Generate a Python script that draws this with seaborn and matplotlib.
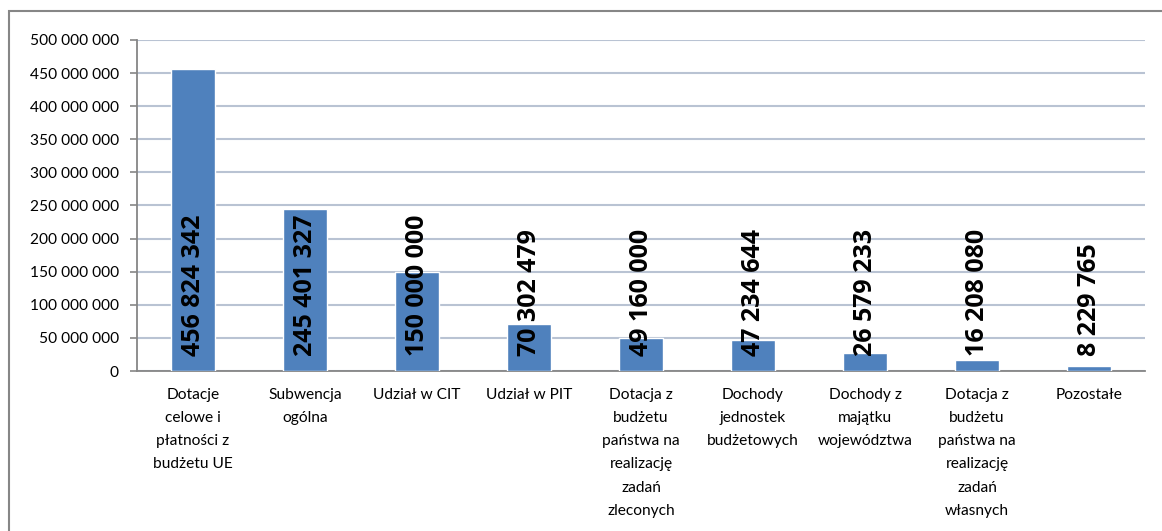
import matplotlib
matplotlib.use("Agg")
import matplotlib.pyplot as plt
import seaborn as sns
import pandas as pd
from matplotlib.ticker import FuncFormatter, MultipleLocator
from matplotlib.patches import Rectangle

# dane z wykresu
kategorie = [
    "Dotacje\ncelowe i\npłatności z\nbudżetu UE",
    "Subwencja\nogólna",
    "Udział w CIT",
    "Udział w PIT",
    "Dotacja z\nbudżetu\npaństwa na\nrealizację\nzadań\nzleconych",
    "Dochody\njednostek\nbudżetowych",
    "Dochody z\nmajątku\nwojewództwa",
    "Dotacja z\nbudżetu\npaństwa na\nrealizację\nzadań\nwłasnych",
    "Pozostałe",
]
wartosci = [456824342, 245401327, 150000000, 70302479, 49160000,
            47234644, 26579233, 16208080, 8229765]

df = pd.DataFrame({"kategoria": kategorie, "wartosc": wartosci})

sns.set_theme(style="white")
plt.rcParams["font.family"] = ["Lato", "DejaVu Sans"]

SZARY = "#868686"
fig = plt.figure(figsize=(11.62, 5.31), dpi=100)
ax = fig.add_axes([0.1179, 0.3013, 0.8675, 0.6234])

sns.barplot(data=df, x="kategoria", y="wartosc", color="#4F81BD",
            width=0.4, saturation=1, ax=ax, zorder=3)

ax.set_ylim(0, 500000000)
ax.set_xlim(-0.5, len(kategorie) - 0.5)
ax.yaxis.set_major_locator(MultipleLocator(50000000))
ax.yaxis.set_major_formatter(FuncFormatter(lambda v, p: f"{v:,.0f}".replace(",", " ")))
ax.grid(axis="y", color="#B9C3D3", linewidth=1.5, zorder=0)
ax.set_xlabel("")
ax.set_ylabel("")

# etykiety osi x i znaczniki między kategoriami
ax.set_xticks(range(len(kategorie)))
ax.set_xticklabels(kategorie, fontsize=11.2, color="black", linespacing=1.84,
                   va="top", ha="center")
ax.tick_params(axis="x", which="major", length=0, pad=12)
ax.set_xticks([i - 0.5 for i in range(len(kategorie) + 1)], minor=True)
ax.tick_params(axis="x", which="minor", length=5, color=SZARY, width=1.2, direction="out")
ax.tick_params(axis="y", length=5, color=SZARY, width=1.2, direction="out",
               labelsize=11.2, labelcolor="black", left=True, pad=8)

for s in ["top", "right"]:
    ax.spines[s].set_visible(False)
for s in ["left", "bottom"]:
    ax.spines[s].set_color(SZARY)
    ax.spines[s].set_linewidth(1.3)

# wartości na słupkach
for i, v in enumerate(wartosci):
    ax.annotate(f"{v:,.0f}".replace(",", " "), (i, 0), xytext=(0, 11),
                textcoords="offset points", rotation=90, ha="center", va="bottom",
                fontsize=18, fontweight="bold", family=["Open Sans", "DejaVu Sans"],
                color="black", zorder=5)

# ramka wykresu
fig.patches.append(Rectangle((9 / 1162, -0.1), 1.2, 1.1 - 11 / 531,
                             transform=fig.transFigure, fill=False,
                             edgecolor=SZARY, linewidth=1.5))

fig.savefig("out.png", dpi=100)
